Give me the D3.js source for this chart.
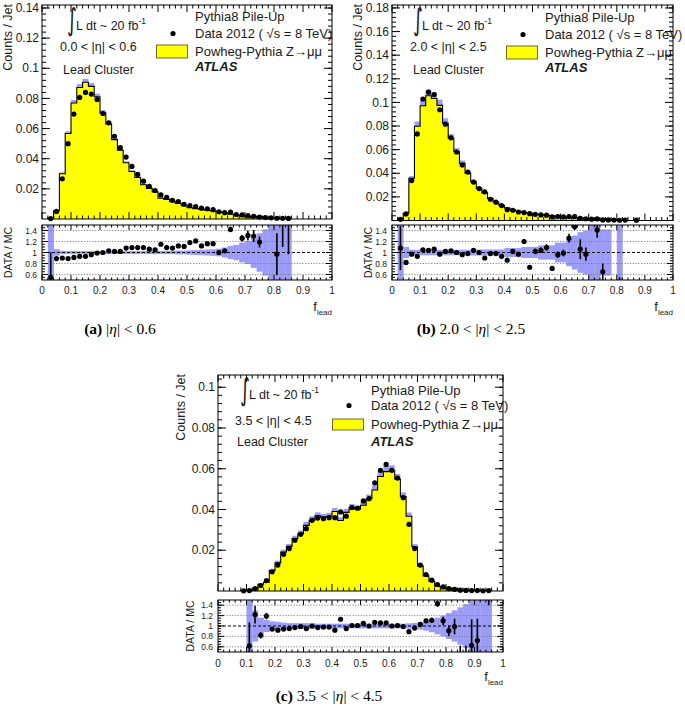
<!DOCTYPE html>
<html><head><meta charset="utf-8">
<script src="https://cdn.jsdelivr.net/npm/d3@7"></script>
<style>body{margin:0;background:#fff}svg{display:block}</style>
</head><body>
<svg id="c" width="685" height="707"></svg>
<script>
// ---------------- data ----------------
const binLow = [0,0.02,0.04,0.06,0.08,0.10,0.12,0.14,0.16,0.18,
  0.20,0.22,0.24,0.26,0.28,0.30,0.32,0.34,0.36,0.38,
  0.40,0.42,0.44,0.46,0.48,0.50,0.52,0.54,0.56,0.58,
  0.60,0.62,0.64,0.66,0.68,0.70,0.72,0.74,0.76,0.78,
  0.80,0.82,0.84,0.86,0.88,0.90,0.92,0.94,0.96,0.98];

// panel (a) 0.0 < |eta| < 0.6
const mcA = [0,0.0005,0.0055,0.0300,0.0567,0.0770,0.0873,0.0907,0.0880,0.0811,
  0.0704,0.0630,0.0527,0.0456,0.0373,0.0315,0.0275,0.0227,0.0203,0.0180,
  0.0138,0.0130,0.0114,0.0104,0.0088,0.0075,0.0068,0.0064,0.0058,0.0053,
  0.0048,0.0041,0.0032,0.0025,0.0021,0.0017,0.0014,0.0011,0.0008,0.0006,
  0.0005,0.0003,0.0002,0,0,0,0,0,0,0];
const dataA = [null,0.0003,0.0050,0.0267,0.0500,0.0696,0.0807,0.0840,0.0829,0.0793,
  0.0700,0.0638,0.0549,0.0473,0.0411,0.0349,0.0296,0.0251,0.0216,0.0189,
  0.0160,0.0144,0.0124,0.0116,0.0098,0.0089,0.0083,0.0072,0.0068,0.0062,
  0.0048,0.0042,0.0046,0.0030,0.0027,0.0022,0.0018,0.0013,0.0010,0.0008,
  0.0005,0.0005,0.0004,null,null,null,null,null,null,null];
const ratioA = [null,0.55,0.89,0.90,0.89,0.91,0.93,0.93,0.96,0.99,
  1.00,1.03,1.02,1.02,1.08,1.09,1.09,1.09,1.06,1.05,
  1.15,1.09,1.08,1.12,1.11,1.18,1.21,1.12,1.16,1.16,
  1.00,1.03,1.42,null,1.26,1.31,1.30,1.19,null,null,
  0.97,1.70,1.60,null,null,null,null,null,null,null];
const ratioErrA = [0,0.45,0.02,0.02,0.02,0.02,0.02,0.02,0.02,0.02,
  0.02,0.02,0.02,0.02,0.02,0.02,0.02,0.02,0.02,0.02,
  0.02,0.02,0.02,0.02,0.02,0.03,0.03,0.03,0.03,0.03,
  0.03,0.03,0.05,0,0.06,0.09,0.11,0.1,0,0,
  0.38,0.6,0.63,0,0,0,0,0,0,0];
const bandA = [0,1,0.06,0.03,0.025,0.025,0.025,0.025,0.025,0.025,
  0.025,0.025,0.025,0.025,0.025,0.025,0.025,0.025,0.03,0.03,
  0.03,0.03,0.03,0.035,0.035,0.04,0.045,0.05,0.055,0.06,
  0.07,0.09,0.12,0.14,0.18,0.21,0.28,0.35,0.42,1,
  1,1,1,0,0,0,0,0,0,0];

// panel (b) 2.0 < |eta| < 2.5
const mcB = [0,0.0010,0.0062,0.0358,0.0798,0.0972,0.1056,0.1033,0.0975,0.0824,
  0.0697,0.0583,0.0484,0.0400,0.0328,0.0271,0.0234,0.0186,0.0157,0.0129,
  0.0106,0.0090,0.0078,0.0068,0.0062,0.0055,0.0050,0.0044,0.0039,0.0034,
  0.0030,0.0026,0.0022,0.0018,0.0015,0.0012,0.0010,0.0008,0.0007,0,
  0.0005,0,0,0,0,0,0,0,0,0];
const dataB = [null,0.0010,0.0056,0.0338,0.0733,0.1029,0.1087,0.1067,0.0938,0.0816,
  0.0700,0.0580,0.0470,0.0410,0.0325,0.0270,0.0243,0.0180,0.0155,0.0126,
  0.0092,0.0087,0.0072,0.0067,0.0058,0.0052,0.0047,0.0045,0.0030,0.0033,
  0.0030,0.0033,0.0032,0.0019,0.0015,0.0011,0.0014,0.0005,0.0005,0.0004,
  0.0002,0.0004,null,0.0003,null,null,null,null,null,null];
const ratioB = [null,1.08,0.82,0.97,0.93,1.05,1.04,1.06,0.97,1.02,
  1.03,1.00,0.96,0.98,1.04,1.00,0.90,0.98,0.98,0.93,
  0.86,1.02,0.97,1.20,0.73,1.02,1.04,1.09,0.71,0.96,
  0.99,1.26,1.47,1.06,0.97,null,1.41,0.65,null,null,
  0.30,null,null,null,null,null,null,null,null,null];
const ratioErrB = [0,0.4,0.03,0.02,0.02,0.02,0.02,0.02,0.02,0.02,
  0.02,0.02,0.02,0.02,0.02,0.02,0.02,0.02,0.02,0.02,
  0.02,0.02,0.02,0.04,0.03,0.05,0.05,0.06,0.04,0.06,
  0.06,0.08,0.06,0.18,0.12,0,0.14,0.15,0,0,
  0.25,0,0,0,0,0,0,0,0,0];
const bandB = [0,1,0.1,0.05,0.05,0.05,0.05,0.05,0.05,0.05,
  0.05,0.05,0.05,0.05,0.055,0.055,0.055,0.055,0.055,0.055,
  0.08,0.08,0.08,0.1,0.1,0.1,0.13,0.13,0.13,0.18,
  0.18,0.25,0.31,0.37,0.4,1,1,0.42,0.42,0,
  1,0,0,0,0,0,0,0,0,0];

// panel (c) 3.5 < |eta| < 4.5
const mcC = [0,0,0,0,0.0002,0.0004,0.0010,0.0033,0.0043,0.0100,
  0.0138,0.0191,0.0219,0.0257,0.0281,0.0322,0.0347,0.0369,0.0362,0.0367,
  0.0390,0.0346,0.0386,0.0408,0.0402,0.0421,0.0453,0.0496,0.0562,0.0586,
  0.0590,0.0549,0.0463,0.0367,0.0217,0.0123,0.0074,0.0048,0.0023,0.0018,
  0.0013,0.0008,0.0006,0.0004,0.0003,0.0002,0.0001,0.0001,0,0];
const dataC = [null,null,null,null,0.0001,0.0002,0.0012,0.0027,0.0051,0.0094,
  0.0127,0.0180,0.0208,0.0249,0.0278,0.0306,0.0347,0.0358,0.0355,0.0360,
  0.0360,0.0388,0.0367,0.0409,0.0406,0.0442,0.0453,0.0531,0.0592,0.0621,
  0.0592,0.0554,0.0458,0.0327,0.0208,0.0127,0.0081,0.0053,0.0032,0.0020,
  0.0012,0.0008,0.0004,0.0003,0.0002,0.0002,0.0001,0.0002,null,null];
const ratioC = [null,null,null,null,null,0.62,1.22,0.82,1.19,0.94,
  0.92,0.94,0.95,0.97,0.99,0.95,1.00,0.97,0.98,0.98,
  0.92,1.13,0.95,1.01,1.01,1.05,1.00,1.07,1.06,1.06,
  1.00,1.01,0.99,0.89,0.96,1.03,1.10,1.11,1.43,1.10,
  0.91,0.99,0.30,0.30,0.63,0.72,null,1.90,null,null];
const ratioErrC = [0,0,0,0,0,0.45,0.17,0.06,0.06,0.02,
  0.02,0.02,0.02,0.02,0.02,0.02,0.02,0.02,0.02,0.02,
  0.02,0.02,0.02,0.02,0.02,0.02,0.02,0.02,0.02,0.02,
  0.02,0.02,0.02,0.02,0.02,0.02,0.04,0.05,0.06,0.08,
  0.1,0.15,0.32,0.32,0.5,0.42,0,0.5,0,0];
const bandC = [0,0,0,0,0,1,0.3,0.16,0.115,0.09,
  0.08,0.065,0.055,0.055,0.055,0.055,0.055,0.045,0.045,0.045,
  0.045,0.045,0.045,0.045,0.045,0.045,0.045,0.045,0.045,0.045,
  0.045,0.045,0.045,0.05,0.06,0.07,0.09,0.12,0.16,0.2,
  0.25,0.3,0.36,0.42,0.5,1,1,1,0,0];

const yTicksA = [0.02,0.04,0.06,0.08,0.10,0.12,0.14];
const yTicksB = [0.02,0.04,0.06,0.08,0.10,0.12,0.14,0.16,0.18];
const yTicksC = [0.02,0.04,0.06,0.08,0.10];
const xTicks = [0,0.1,0.2,0.3,0.4,0.5,0.6,0.7,0.8,0.9,1];
const ratioTicks = [0.6,0.8,1,1.2,1.4];
const ratioGrid = [0.6,0.8,1.2,1.4];
const etaLabels = ["0.0 < |η| < 0.6","2.0 < |η| < 2.5","3.5 < |η| < 4.5"];
const captionTags = ["(a)","(b)","(c)"];
const captionRanges = [["",  "< 0.6"],["2.0 < ","< 2.5"],["3.5 < ","< 4.5"]];
const legendTexts = ["Pythia8 Pile-Up","Data 2012 ( √s = 8 TeV)","Powheg-Pythia Z→μμ","ATLAS"];

// ---------------- drawing ----------------
const svg = d3.select('#c');
const defs = svg.append('defs');
const SANS = "'Liberation Sans', Arial, Helvetica, sans-serif";
const SERIF = "'Liberation Serif', 'Times New Roman', serif";
const BAND = '#9b9bf8';
const YEL = '#ffff00';
const TXT = '#1a1a1a';

const panels = [
  {id:'a', x0:42, x1:332, mTop:5, mBot:219, yMax:0.142, yTicks:yTicksA,
   rTop:225, rBot:280, mc:mcA, data:dataA, ratio:ratioA, rErr:ratioErrA, band:bandA,
   eta:etaLabels[0], intX:25, lumiX:34, etaX:18, leadX:21, leftY:[25,46,69], legY:[16,33,51,66], boxY:[40,53],
   countsX:12, dmcX:12, cap:0, capX:120, capY:334, flDy:31, xlDy:14},
  {id:'b', x0:392, x1:673, mTop:5, mBot:220.5, yMax:0.1825, yTicks:yTicksB,
   rTop:225, rBot:280, mc:mcB, data:dataB, ratio:ratioB, rErr:ratioErrB, band:bandB,
   eta:etaLabels[1], intX:21, lumiX:30, etaX:18, leadX:21, leftY:[25,46,69], legY:[17,34,52,67], boxY:[41,54],
   countsX:362, dmcX:372, cap:1, capX:471, capY:334, flDy:31, xlDy:14},
  {id:'c', x0:218, x1:503, mTop:375, mBot:591, yMax:0.106, yTicks:yTicksC,
   rTop:600, rBot:652, mc:mcC, data:dataC, ratio:ratioC, rErr:ratioErrC, band:bandC,
   eta:etaLabels[2], intX:22, lumiX:31, etaX:17, leadX:19, leftY:[24,49.5,71], legY:[19.5,35,54,70.5], boxY:[44,55],
   countsX:185, dmcX:194, cap:2, capX:329, capY:701, flDy:29, xlDy:15}
];

function ln(g,x1,y1,x2,y2,w,col,dash){
  const l = g.append('line').attr('x1',x1).attr('y1',y1).attr('x2',x2).attr('y2',y2)
    .attr('stroke',col||'#000').attr('stroke-width',w||1);
  if(dash) l.attr('stroke-dasharray',dash);
  return l;
}
const fmt = v => String(+v.toFixed(2));

function drawPanel(p){
  const g = svg.append('g');
  const x = d3.scaleLinear().domain([0,1]).range([p.x0,p.x1]);
  const y = d3.scaleLinear().domain([0,p.yMax]).range([p.mBot,p.mTop]);
  const yr = d3.scaleLinear().domain([0.5,1.5]).range([p.rBot,p.rTop]);
  const bins = binLow.map((lo,i)=>({lo, hi: i<binLow.length-1?binLow[i+1]:1,
    mc:p.mc[i], d:p.data[i], r:p.ratio[i], re:p.rErr[i], b:p.band[i]}));

  defs.append('clipPath').attr('id','cm'+p.id).append('rect')
    .attr('x',p.x0).attr('y',p.mTop).attr('width',p.x1-p.x0).attr('height',p.mBot-p.mTop);
  defs.append('clipPath').attr('id','cr'+p.id).append('rect')
    .attr('x',p.x0).attr('y',p.rTop).attr('width',p.x1-p.x0).attr('height',p.rBot-p.rTop);

  // ---- main panel ----
  const gm = g.append('g').attr('clip-path',`url(#cm${p.id})`);
  const nz = bins.filter(d=>d.mc>0);
  const first = bins.findIndex(d=>d.mc>0);
  let last = first; bins.forEach((d,i)=>{ if(d.mc>0) last=i; });
  const pts = [[bins[first].lo,0]];
  for(let i=first;i<=last;i++){ pts.push([bins[i].lo,bins[i].mc]); pts.push([bins[i].hi,bins[i].mc]); }
  pts.push([bins[last].hi,0]);
  gm.append('path').attr('d',d3.line().x(d=>x(d[0])).y(d=>y(d[1]))(pts)+'Z').attr('fill',YEL).attr('stroke','none');
  gm.selectAll('rect.bd').data(nz.filter(d=>d.b>0)).join('rect').attr('class','bd')
    .attr('x',d=>x(d.lo)).attr('width',d=>x(d.hi)-x(d.lo))
    .attr('y',d=>y(d.mc*(1+Math.min(d.b,0.5)))).attr('height',d=>y(d.mc)-y(d.mc*(1+Math.min(d.b,0.5))))
    .attr('fill',BAND);
  gm.append('path').attr('d',d3.line().x(d=>x(d[0])).y(d=>y(d[1]))(pts))
    .attr('fill','none').attr('stroke','#000').attr('stroke-width',1.1);

  g.selectAll('circle.dm').data(bins.filter(d=>d.d!=null)).join('circle').attr('class','dm')
    .attr('cx',d=>x((d.lo+d.hi)/2)).attr('cy',d=>y(d.d)).attr('r',2.6).attr('fill','#000');

  g.append('rect').attr('x',p.x0).attr('y',p.mTop).attr('width',p.x1-p.x0).attr('height',p.mBot-p.mTop)
    .attr('fill','none').attr('stroke','#000').attr('stroke-width',1);

  // main ticks
  binLow.forEach(v=>{ if(v>0 && Math.abs(v*10-Math.round(v*10))>1e-6){
    ln(g,x(v),p.mBot,x(v),p.mBot-3.5); ln(g,x(v),p.mTop,x(v),p.mTop+3.5); }});
  xTicks.forEach(v=>{ ln(g,x(v),p.mBot,x(v),p.mBot-7); ln(g,x(v),p.mTop,x(v),p.mTop+7); });
  d3.range(0.004,p.yMax,0.004).forEach(v=>{ ln(g,p.x0,y(v),p.x0+4,y(v)); ln(g,p.x1,y(v),p.x1-4,y(v)); });
  p.yTicks.forEach(v=>{
    ln(g,p.x0,y(v),p.x0+8,y(v)); ln(g,p.x1,y(v),p.x1-8,y(v));
    g.append('text').attr('x',p.x0-3).attr('y',y(v)+4.2).attr('text-anchor','end')
      .attr('font-family',SANS).attr('font-size',12).attr('fill',TXT).text(fmt(v));
  });
  g.append('text').attr('transform',`translate(${p.countsX},${p.mTop-1}) rotate(-90)`)
    .attr('text-anchor','end').attr('font-family',SANS).attr('font-size',12.5).attr('fill',TXT).text('Counts / Jet');

  // texts in main
  const t = g.append('g').attr('font-family',SANS).attr('fill',TXT);
  t.append('text').attr('transform',`translate(${p.x0+p.intX},${p.mTop+25}) scale(1,1.6)`)
    .attr('font-family',"'DejaVu Sans'").attr('font-size',19).text('∫');
  const lum = t.append('text').attr('x',p.x0+p.lumiX).attr('y',p.mTop+p.leftY[0]).attr('font-size',12.5);
  lum.append('tspan').text('L dt ~ 20 fb');
  lum.append('tspan').attr('dy',-6).attr('font-size',8.5).text('-1');
  t.append('text').attr('x',p.x0+p.etaX).attr('y',p.mTop+p.leftY[1]).attr('font-size',12.5).text(p.eta);
  t.append('text').attr('x',p.x0+p.leadX).attr('y',p.mTop+p.leftY[2]).attr('font-size',12.5).text('Lead Cluster');
  const lx = p.x0+153;
  t.append('text').attr('x',lx).attr('y',p.mTop+p.legY[0]).attr('font-size',13).text(legendTexts[0]);
  t.append('text').attr('x',lx).attr('y',p.mTop+p.legY[1]).attr('font-size',13).text(legendTexts[1]);
  t.append('circle').attr('cx',p.x0+131).attr('cy',p.mTop+p.legY[1]-4.5).attr('r',2.6).attr('fill','#000');
  t.append('rect').attr('x',p.x0+114.5).attr('y',p.mTop+p.boxY[0]).attr('width',31).attr('height',p.boxY[1]-p.boxY[0])
    .attr('fill',YEL).attr('stroke','#6a6a2a').attr('stroke-width',1);
  t.append('text').attr('x',lx).attr('y',p.mTop+p.legY[2]).attr('font-size',13).text(legendTexts[2]);
  t.append('text').attr('x',lx).attr('y',p.mTop+p.legY[3]).attr('font-size',13).attr('font-weight','bold')
    .attr('font-style','italic').text(legendTexts[3]);

  // ---- ratio panel ----
  const gr = g.append('g').attr('clip-path',`url(#cr${p.id})`);
  gr.selectAll('rect.rb').data(bins.filter(d=>d.b>0)).join('rect').attr('class','rb')
    .attr('x',d=>x(d.lo)).attr('width',d=>x(d.hi)-x(d.lo)+0.3)
    .attr('y',d=>yr(Math.min(1.6,1+d.b))).attr('height',d=>yr(Math.max(0.4,1-d.b))-yr(Math.min(1.6,1+d.b)))
    .attr('fill',BAND);
  ratioGrid.forEach(v=>ln(gr,p.x0,yr(v),p.x1,yr(v),0.9,'#777','1.2,1.6'));
  ln(gr,p.x0,yr(1),p.x1,yr(1),1,'#000','3,2');
  const rp = bins.filter(d=>d.r!=null);
  rp.forEach(d=>{ if(d.re>0.025){ const cx=x((d.lo+d.hi)/2);
    ln(gr,cx,yr(d.r-d.re),cx,yr(d.r+d.re),1.6,'#000'); }});
  gr.selectAll('circle.rd').data(rp).join('circle').attr('class','rd')
    .attr('cx',d=>x((d.lo+d.hi)/2)).attr('cy',d=>yr(d.r)).attr('r',2.6).attr('fill','#000');
  g.append('rect').attr('x',p.x0).attr('y',p.rTop).attr('width',p.x1-p.x0).attr('height',p.rBot-p.rTop)
    .attr('fill','none').attr('stroke','#000').attr('stroke-width',1);
  binLow.forEach(v=>{ if(v>0 && Math.abs(v*10-Math.round(v*10))>1e-6){
    ln(g,x(v),p.rBot,x(v),p.rBot-2.5); ln(g,x(v),p.rTop,x(v),p.rTop+2.5); }});
  xTicks.forEach(v=>{ ln(g,x(v),p.rBot,x(v),p.rBot-5); ln(g,x(v),p.rTop,x(v),p.rTop+5);
    g.append('text').attr('x',x(v)).attr('y',p.rBot+p.xlDy).attr('text-anchor','middle')
      .attr('font-family',SANS).attr('font-size',10).attr('fill',TXT).text(fmt(v)); });
  d3.range(0.55,1.5,0.05).forEach(v=>{ ln(g,p.x0,yr(v),p.x0+3,yr(v)); ln(g,p.x1,yr(v),p.x1-3,yr(v)); });
  ratioTicks.forEach(v=>{ ln(g,p.x0,yr(v),p.x0+6,yr(v)); ln(g,p.x1,yr(v),p.x1-6,yr(v));
    g.append('text').attr('x',p.x0-5).attr('y',yr(v)+3).attr('text-anchor','end')
      .attr('font-family',SANS).attr('font-size',8.5).attr('fill',TXT).text(fmt(v)); });
  g.append('text').attr('transform',`translate(${p.dmcX},${(p.rTop+p.rBot)/2}) rotate(-90)`)
    .attr('text-anchor','middle').attr('font-family',SANS).attr('font-size',10.5).attr('fill',TXT).text('DATA / MC');
  const fl = g.append('text').attr('x',p.x1).attr('y',p.rBot+p.flDy).attr('text-anchor','end')
    .attr('font-family',SANS).attr('font-size',13).attr('fill',TXT);
  fl.append('tspan').text('f');
  fl.append('tspan').attr('dy',3.5).attr('font-size',8).text('lead');

  // caption
  const cp = svg.append('text').attr('x',p.capX).attr('y',p.capY).attr('text-anchor','middle')
    .attr('font-family',SERIF).attr('font-size',15.5).attr('fill','#000');
  cp.append('tspan').attr('font-weight','bold').text(captionTags[p.cap]);
  cp.append('tspan').text(' '+captionRanges[p.cap][0]+'|');
  cp.append('tspan').attr('font-style','italic').text('η');
  cp.append('tspan').text('| '+captionRanges[p.cap][1]);
}
panels.forEach(drawPanel);
</script>
</body></html>
